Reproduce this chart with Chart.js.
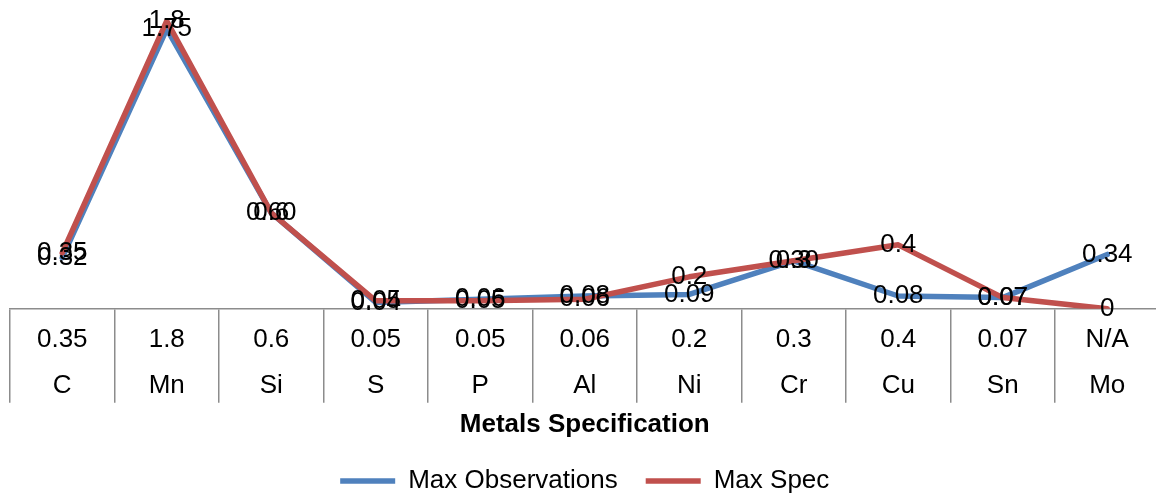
<!DOCTYPE html>
<html>
<head>
<meta charset="utf-8">
<title>Metals Specification</title>
<script src="https://cdn.jsdelivr.net/npm/chart.js@4.4.1/dist/chart.umd.min.js"></script>
<style>
  html, body { margin: 0; padding: 0; background: #ffffff; overflow: hidden; }
  #wrap { width: 1162px; height: 504px; }
</style>
</head>
<body>
<div id="wrap"><canvas id="chart" width="1162" height="504"></canvas></div>
<script>
// Elements and their specification limits (two-level category axis)
const elements = ['C', 'Mn', 'Si', 'S', 'P', 'Al', 'Ni', 'Cr', 'Cu', 'Sn', 'Mo'];
const specLimits = ['0.35', '1.8', '0.6', '0.05', '0.05', '0.06', '0.2', '0.3', '0.4', '0.07', 'N/A'];

// Series values
const maxObservations = [0.32, 1.75, 0.60, 0.04, 0.06, 0.08, 0.09, 0.30, 0.08, 0.07, 0.34];
const maxSpec = [0.35, 1.8, 0.6, 0.05, 0.05, 0.06, 0.2, 0.3, 0.4, 0.07, 0];

const FONT = '"Liberation Sans", Arial, Helvetica, sans-serif';
const BLUE = '#4F81BD';
const RED = '#C0504D';
const GRID = '#8c8c8c';

// Value labels centred on each point
const labelFormats = [v => v.toFixed(2), v => String(v)];
const pointLabels = {
  id: 'pointLabels',
  afterDatasetsDraw(chart) {
    const ctx = chart.ctx;
    ctx.save();
    ctx.font = '26px ' + FONT;
    ctx.fillStyle = '#000000';
    ctx.textAlign = 'center';
    ctx.textBaseline = 'middle';
    chart.data.datasets.forEach((ds, di) => {
      const meta = chart.getDatasetMeta(di);
      meta.data.forEach((pt, i) => {
        ctx.fillText(labelFormats[di](ds.data[i]), pt.x, pt.y);
      });
    });
    ctx.restore();
  }
};

Chart.defaults.font.family = FONT;

new Chart(document.getElementById('chart'), {
  type: 'line',
  data: {
    labels: elements.map((e, i) => [specLimits[i], e]),
    datasets: [
      {
        label: 'Max Observations',
        data: maxObservations,
        borderColor: BLUE,
        backgroundColor: BLUE,
        borderWidth: 5.5,
        borderCapStyle: 'round',
        borderJoinStyle: 'round',
        pointRadius: 0,
        tension: 0,
        order: 1
      },
      {
        label: 'Max Spec',
        data: maxSpec,
        borderColor: RED,
        backgroundColor: RED,
        borderWidth: 5.5,
        borderCapStyle: 'round',
        borderJoinStyle: 'round',
        pointRadius: 0,
        tension: 0,
        order: 0
      }
    ]
  },
  options: {
    responsive: false,
    animation: false,
    devicePixelRatio: 1,
    layout: { padding: { top: 5, left: 10, right: 2.5, bottom: 0 } },
    plugins: {
      legend: {
        position: 'bottom',
        labels: {
          sort: (a, b) => a.datasetIndex - b.datasetIndex,
          usePointStyle: true,
          pointStyle: 'line',
          pointStyleWidth: 55,
          padding: 28,
          color: '#000000',
          font: { family: FONT, size: 26 }
        }
      },
      tooltip: { enabled: false }
    },
    scales: {
      x: {
        offset: true,
        grid: {
          display: true,
          offset: true,
          drawOnChartArea: false,
          drawTicks: true,
          tickLength: 94,
          color: GRID,
          lineWidth: 1.5
        },
        border: { display: true, color: GRID, width: 1.5 },
        ticks: {
          autoSkip: false,
          maxRotation: 0,
          minRotation: 0,
          padding: -86,
          color: '#000000',
          font: { family: FONT, size: 26, lineHeight: '46px' }
        },
        title: {
          display: true,
          text: 'Metals Specification',
          color: '#000000',
          font: { family: FONT, size: 26, weight: 'bold', lineHeight: 1.2 },
          padding: { top: 86, bottom: 0 }
        }
      },
      y: {
        display: false,
        min: 0,
        max: 1.9
      }
    }
  },
  plugins: [pointLabels]
});
</script>
</body>
</html>
